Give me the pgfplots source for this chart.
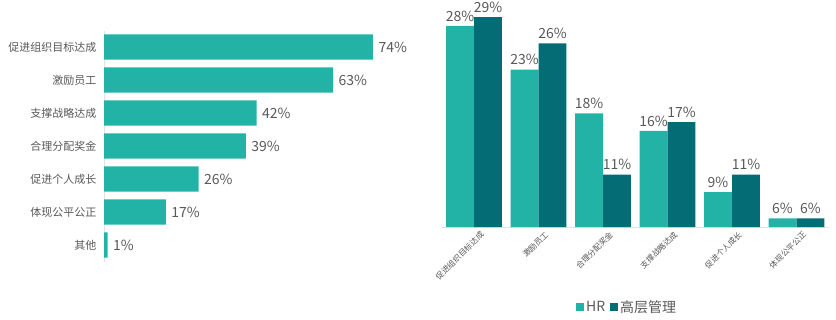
\documentclass[border=0pt]{standalone}
\usepackage{fontspec}
\setmainfont{Noto Sans CJK SC}
\usepackage{pgfplots}
\pgfplotsset{compat=1.18}

\definecolor{hr}{RGB}{35,179,166}
\definecolor{mgmt}{RGB}{3,108,116}
\definecolor{txt}{RGB}{89,89,89}
\definecolor{axl}{RGB}{225,225,225}

\begin{document}
\begin{tikzpicture}
\path[use as bounding box] (0pt,0pt) rectangle (836pt,-319pt);

% left: share of respondents by purpose
\begin{axis}[
    at={(104pt,-261.5pt)}, anchor=south west,
    scale only axis, width=290.8pt, height=231pt,
    xbar, bar width=0.76,
    xmin=0, xmax=80, ymin=-0.5, ymax=6.5,
    axis x line=none, axis y line=left,
    y axis line style={draw=axl, -},
    ytick={0,...,6},
    yticklabels={其他,体现公平公正,促进个人成长,合理分配奖金,支撑战略达成,激励员工,促进组织目标达成},
    major tick length=0pt,
    yticklabel style={font=\fontsize{11}{13}\selectfont, text=txt, xshift=-4pt},
    clip=false,
    /pgf/number format/assume math mode=true,
    nodes near coords={\pgfmathprintnumber{\pgfplotspointmeta}\%},
    every node near coord/.append style={font=\fontsize{14}{16}\selectfont, text=txt, xshift=2pt},
]
\addplot[draw=none, fill=hr] coordinates {
    (1,0) (17,1) (26,2) (39,3) (42,4) (63,5) (74,6)
};
\end{axis}

% right: HR vs senior management
\begin{axis}[
    at={(441.75pt,-227pt)}, anchor=south west,
    scale only axis, width=387pt, height=218.5pt,
    ybar=0pt, bar width=0.434,
    xmin=-0.5, xmax=5.5, ymin=5, ymax=30,
    axis y line=none, axis x line=bottom,
    x axis line style={draw=axl, -},
    xtick={0,...,5},
    xticklabels={促进组织目标达成,激励员工,合理分配奖金,支撑战略达成,促进个人成长,体现公平公正},
    major tick length=0pt,
    xticklabel style={font=\fontsize{8}{9}\selectfont, text=txt, rotate=45, anchor=north east, xshift=5pt, yshift=-3pt},
    clip=false,
    /pgf/number format/assume math mode=true,
    nodes near coords={\pgfmathprintnumber{\pgfplotspointmeta}\%},
    every node near coord/.append style={font=\fontsize{14}{16}\selectfont, text=txt, yshift=1pt},
    legend columns=2,
    legend style={at={(0.479,-0.366)}, anchor=center, draw=none, fill=none,
        font=\fontsize{14}{16}\selectfont, text=txt,
        /tikz/every even column/.append style={column sep=3pt}},
    legend image code/.code={\fill[#1] (0pt,-4pt) rectangle (8pt,4pt);},
]
\addplot[draw=none, fill=hr] coordinates {
    (0,28) (1,23) (2,18) (3,16) (4,9) (5,6)
};
\addplot[draw=none, fill=mgmt] coordinates {
    (0,29) (1,26) (2,11) (3,17) (4,11) (5,6)
};
\legend{HR,高层管理}
\end{axis}
\end{tikzpicture}
\end{document}
